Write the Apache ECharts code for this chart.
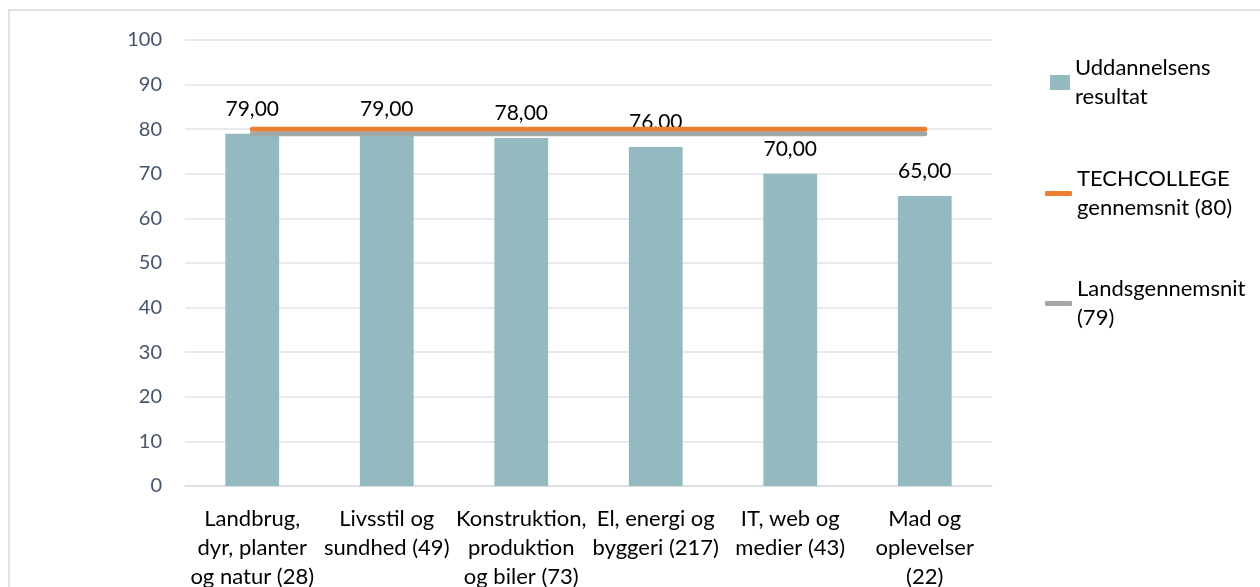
<!DOCTYPE html>
<html>
<head>
<meta charset="utf-8">
<script src="https://cdn.jsdelivr.net/npm/echarts@6/dist/echarts.min.js"></script>
<style>
html, body {
  margin: 0;
  padding: 0;
  background: #FFF;
}
#chart {
  width: 1260px;
  height: 587px;
}
</style>
</head>
<body>
<div id="chart"></div>
<script>
// kategorier (ombrudt som i originalen)
const categories = [
  'Landbrug,\ndyr, planter\nog natur (28)',
  'Livsstil og\nsundhed (49)',
  'Konstruktion,\nproduktion\nog biler (73)',
  'El, energi og\nbyggeri (217)',
  'IT, web og\nmedier (43)',
  'Mad og\noplevelser\n(22)'
]
const resultat = [79, 79, 78, 76, 70, 65]
const techcollege = [80, 80, 80, 80, 80, 80]
const landsgennemsnit = [79, 79, 79, 79, 79, 79]

const names = {
  bar: 'Uddannelsens resultat',
  tech: 'TECHCOLLEGE gennemsnit (80)',
  land: 'Landsgennemsnit (79)'
}
const legendLabels = {
  [names.bar]: 'Uddannelsens\nresultat',
  [names.tech]: 'TECHCOLLEGE\ngennemsnit (80)',
  [names.land]: 'Landsgennemsnit\n(79)'
}

const FONT = 'Lato'
const chart = echarts.init(document.getElementById('chart'))

function legendFor (name, top, left, w, h, icon) {
  return {
    data: [name],
    icon: icon,
    orient: 'vertical',
    left: left,
    top: top,
    padding: 0,
    itemWidth: w,
    itemHeight: h,
    itemGap: 0,
    selectedMode: false,
    formatter: n => legendLabels[n],
    textStyle: {
      fontFamily: FONT,
      fontSize: 22,
      lineHeight: 29,
      color: '#000',
      padding: [29, 0, 0, 0]
    }
  }
}

chart.setOption({
  animation: false,
  textStyle: { fontFamily: FONT },
  graphic: [{
    type: 'rect',
    silent: true,
    shape: { x: 9, y: 10, width: 1400, height: 800 },
    style: { fill: 'none', stroke: '#dfe3e9', lineWidth: 2 }
  }],
  legend: [
    legendFor(names.bar, 39, 1050, 20, 15, 'rect'),
    legendFor(names.tech, 150, 1045, 27, 5, 'roundRect'),
    legendFor(names.land, 260, 1045, 27, 5, 'roundRect')
  ],
  grid: {
    left: 185,
    right: 268,
    top: 40,
    bottom: 101,
    outerBoundsMode: 'none'
  },
  xAxis: {
    type: 'category',
    data: categories,
    axisTick: { show: false },
    axisLine: { lineStyle: { color: '#d9dde3', width: 1.5 } },
    axisLabel: {
      interval: 0,
      margin: 18,
      fontFamily: FONT,
      fontSize: 22,
      lineHeight: 29,
      color: '#000',
      align: 'center'
    }
  },
  yAxis: {
    type: 'value',
    min: 0,
    max: 100,
    interval: 10,
    axisLine: { show: false },
    axisTick: { show: false },
    splitLine: { lineStyle: { color: '#dfe3e9', width: 1.5 } },
    axisLabel: {
      margin: 23,
      fontFamily: FONT,
      fontSize: 20,
      color: '#44546A'
    }
  },
  series: [
    {
      name: names.bar,
      type: 'bar',
      data: resultat,
      barWidth: '40%',
      itemStyle: { color: '#92BAC0' },
      label: {
        show: true,
        position: 'top',
        distance: 14,
        fontFamily: FONT,
        fontSize: 21,
        color: '#000',
        formatter: p => p.value.toFixed(2).replace('.', ',')
      }
    },
    {
      name: names.tech,
      type: 'line',
      data: techcollege,
      symbol: 'none',
      lineStyle: { color: '#ED7D31', width: 5, cap: 'round' },
      itemStyle: { color: '#ED7D31' }
    },
    {
      name: names.land,
      type: 'line',
      data: landsgennemsnit,
      symbol: 'none',
      lineStyle: { color: '#A5A5A5', width: 5, cap: 'round' },
      itemStyle: { color: '#A5A5A5' }
    }
  ]
})
</script>
</body>
</html>
